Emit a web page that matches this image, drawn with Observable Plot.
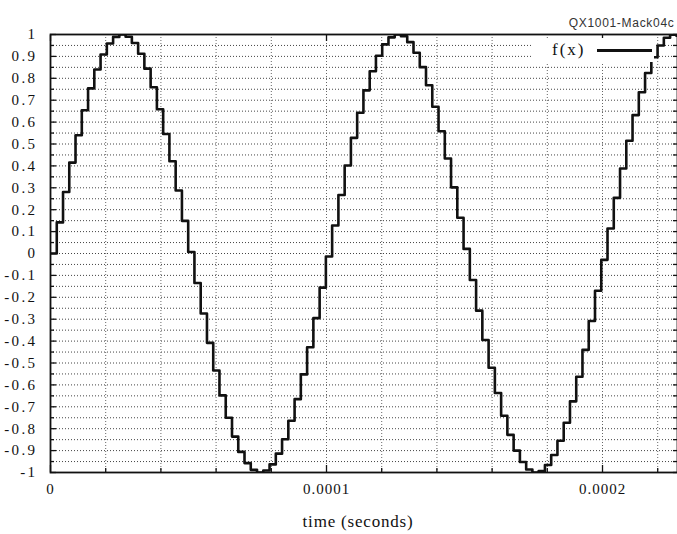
<!DOCTYPE html>
<html>
<head>
<meta charset="utf-8">
<script src="https://cdn.jsdelivr.net/npm/d3@7"></script>
<script src="https://cdn.jsdelivr.net/npm/@observablehq/plot@0.6"></script>
<style>
  html, body { margin: 0; padding: 0; background: white; }
  #wrap { position: relative; width: 677px; height: 534px; }
  #chart svg { font-family: "Liberation Serif", serif; font-size: 15px; }
  #chart g[aria-label="y-axis tick label"] text { letter-spacing: 2.4px; }
  #chart g[aria-label="x-axis tick label"] text { letter-spacing: 1px; }
  #legend { position: absolute; left: 533px; top: 38px; width: 121px; height: 24px; background: white; }
  #legend .lab { position: absolute; left: 19px; top: 1px; font: 17px "Liberation Serif", serif; color: #111; line-height: 22px; letter-spacing: 2px; }
  #legend .swatch { position: absolute; left: 64px; top: 11px; width: 55px; height: 2.5px; background: #111; }
</style>
</head>
<body>
<div id="wrap">
  <div id="chart"></div>
  <div id="legend"><span class="lab">f(x)</span><span class="swatch"></span></div>
</div>
<script>
// sample times (microseconds) read from the step edges
const timeUs = [0, 2.27, 4.54, 6.80, 9.07, 11.34, 13.61, 15.87, 18.14, 20.41, 22.68, 24.94, 27.21, 29.48, 31.75, 34.01, 36.28, 38.55, 40.82, 43.08, 45.35, 47.62, 49.89, 52.15, 54.42, 56.69, 58.96, 61.22, 63.49, 65.76, 68.03, 70.29, 72.56, 74.83, 77.10, 79.37, 81.63, 83.90, 86.17, 88.44, 90.70, 92.97, 95.24, 97.51, 99.77, 102.04, 104.31, 106.58, 108.84, 111.11, 113.38, 115.65, 117.91, 120.18, 122.45, 124.72, 126.98, 129.25, 131.52, 133.79, 136.05, 138.32, 140.59, 142.86, 145.12, 147.39, 149.66, 151.93, 154.20, 156.46, 158.73, 161.00, 163.27, 165.53, 167.80, 170.07, 172.34, 174.60, 176.87, 179.14, 181.41, 183.67, 185.94, 188.21, 190.48, 192.74, 195.01, 197.28, 199.55, 201.81, 204.08, 206.35, 208.62, 210.88, 213.15, 215.42, 217.69, 219.95, 222.22, 224.49, 226.76];
// sample values f(x)
const fx = [0, 0.142, 0.281, 0.415, 0.540, 0.654, 0.754, 0.840, 0.909, 0.959, 0.989, 1.000, 0.990, 0.961, 0.912, 0.844, 0.759, 0.659, 0.546, 0.421, 0.288, 0.149, 0.007, -0.135, -0.274, -0.408, -0.534, -0.648, -0.750, -0.836, -0.906, -0.957, -0.988, -1.000, -0.991, -0.963, -0.914, -0.848, -0.764, -0.665, -0.552, -0.428, -0.295, -0.156, -0.014, 0.128, 0.267, 0.402, 0.528, 0.643, 0.745, 0.832, 0.903, 0.955, 0.987, 1.000, 0.992, 0.965, 0.917, 0.851, 0.768, 0.670, 0.558, 0.434, 0.302, 0.163, 0.021, -0.121, -0.261, -0.395, -0.522, -0.637, -0.741, -0.828, -0.900, -0.952, -0.986, -1.000, -0.993, -0.966, -0.920, -0.855, -0.773, -0.675, -0.563, -0.440, -0.308, -0.170, -0.029, 0.114, 0.254, 0.388, 0.515, 0.632, 0.736, 0.824, 0.896, 0.950, 0.985, 0.9995, 0.994];

const yLabelTicks = [-1, -0.9, -0.8, -0.7, -0.6, -0.5, -0.4, -0.3, -0.2, -0.1, 0, 0.1, 0.2, 0.3, 0.4, 0.5, 0.6, 0.7, 0.8, 0.9, 1];
const yMinorTicks = [-0.95, -0.85, -0.75, -0.65, -0.55, -0.45, -0.35, -0.25, -0.15, -0.05, 0.05, 0.15, 0.25, 0.35, 0.45, 0.55, 0.65, 0.75, 0.85, 0.95];
const xLabelTicks = [0, 0.0001, 0.0002];
const xMinorTicks = [0.00002, 0.00004, 0.00006, 0.00008, 0.00012, 0.00014, 0.00016, 0.00018, 0.00022];
const xLabels = ["0", "0.0001", "0.0002"];
const title = "QX1001-Mack04c";
const xTitle = "time (seconds)";
const seriesName = "f(x)";

const data = timeUs.map((t, i) => ({t: t * 1e-6, v: fx[i]}));
const yAll = yLabelTicks.concat(yMinorTicks);
const xAll = xLabelTicks.concat(xMinorTicks);
const fmtY = d => String(Math.round(d * 10) / 10);
const fmtX = d => xLabels[xLabelTicks.indexOf(d)] ?? "";

const serif = "Liberation Serif, serif";
const gridStyle = {stroke: "#444", strokeDasharray: "1,2", strokeWidth: 1};
const tickOpts = {tickFormat: () => "", label: null, stroke: "#111", strokeWidth: 1.3};

const chart = Plot.plot({
  width: 677,
  height: 534,
  marginLeft: 50,
  marginRight: 0,
  marginTop: 34,
  marginBottom: 62,
  style: {background: "white", color: "#111"},
  x: {domain: [0, 0.00022717]},
  y: {domain: [-1, 1]},
  marks: [
    Plot.ruleY(yAll.filter(d => d > -1 && d < 1), {...gridStyle}),
    Plot.ruleX(xAll.filter(d => d > 0), {...gridStyle, stroke: "#666"}),
    Plot.line(data, {x: "t", y: "v", curve: "step-after", stroke: "#111", strokeWidth: 2.6, clip: true}),
    Plot.frame({stroke: "#111", strokeWidth: 1.8}),
    // inward ticks
    Plot.axisY({anchor: "left", ticks: yLabelTicks, tickSize: -6, ...tickOpts}),
    Plot.axisY({anchor: "left", ticks: yMinorTicks, tickSize: -4, ...tickOpts}),
    Plot.axisY({anchor: "right", ticks: yAll, tickSize: -5, ...tickOpts}),
    Plot.axisX({anchor: "bottom", ticks: xLabelTicks, tickSize: -7, ...tickOpts}),
    Plot.axisX({anchor: "bottom", ticks: xMinorTicks, tickSize: -4, ...tickOpts}),
    Plot.axisX({anchor: "top", ticks: xLabelTicks, tickSize: -6, ...tickOpts}),
    // tick labels
    Plot.axisY({anchor: "left", ticks: yLabelTicks, tickSize: 0, tickPadding: 13, tickFormat: fmtY, label: null, fill: "#111", fontFamily: serif, fontSize: 15}),
    Plot.axisX({anchor: "bottom", ticks: xLabelTicks, tickSize: 0, tickPadding: 11, tickFormat: fmtX, label: null, fill: "#111", fontFamily: serif, fontSize: 15}),
    Plot.text([xTitle], {frameAnchor: "bottom", dx: -6, dy: 54, text: d => d, fontSize: 17, fontFamily: serif, fill: "#111"}),
    Plot.text([title], {frameAnchor: "top-right", dx: -3, dy: -16, text: d => d, textAnchor: "end", fontFamily: "Liberation Sans, Arial, sans-serif", fontSize: 12, fill: "#333"})
  ]
});
document.getElementById("chart").appendChild(chart);
// letter spacing for the two free texts
chart.querySelectorAll('g[aria-label="text"] text').forEach(t => {
  t.style.letterSpacing = t.textContent === xTitle ? "0.8px" : "0.7px";
});
</script>
</body>
</html>
